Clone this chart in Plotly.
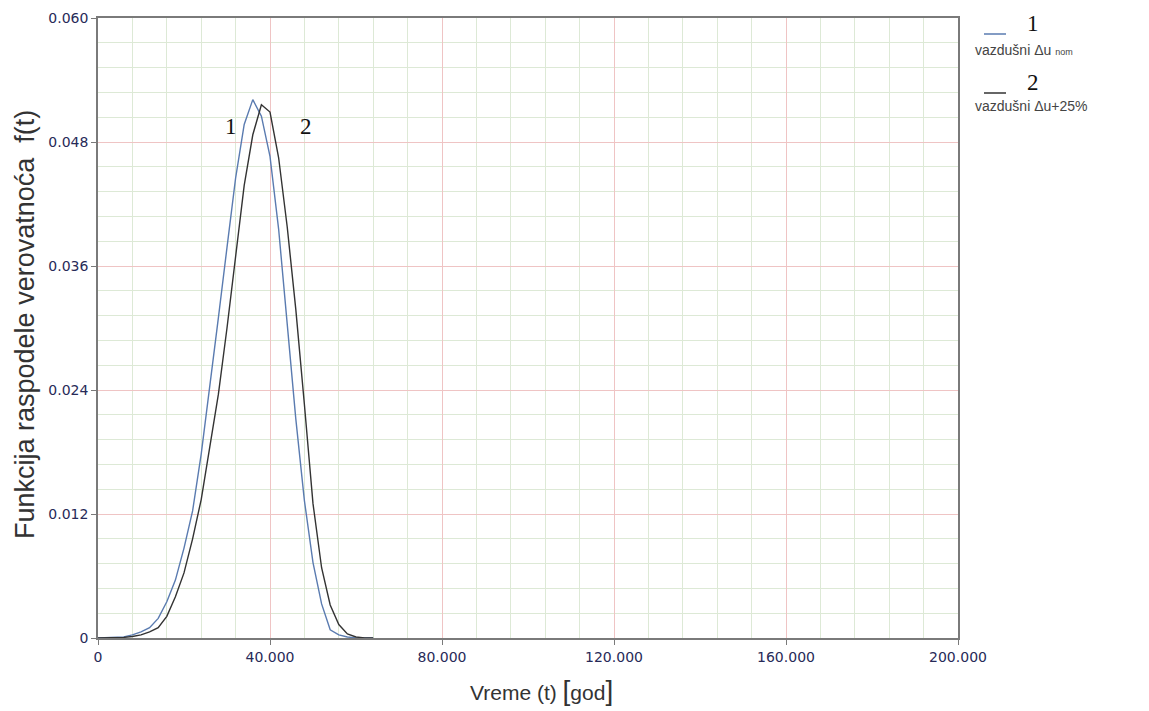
import plotly.graph_objects as go

# time (years)
t = [0, 2, 4, 6, 8, 10, 12, 14, 16, 18, 20, 22, 24, 26, 28, 30, 32, 34, 36, 38,
     40, 42, 44, 46, 48, 50, 52, 54, 56, 58, 60, 62, 64]

# series 1: vazdušni Δu nom
f1 = [0, 0.00001, 0.00005, 0.0001, 0.0003, 0.0006, 0.0010, 0.0019, 0.0035, 0.0056,
      0.0087, 0.0123, 0.0178, 0.0242, 0.0310, 0.0378, 0.0445, 0.0497, 0.0521, 0.0505,
      0.0466, 0.0396, 0.0300, 0.0212, 0.0133, 0.0073, 0.0033, 0.0008, 0.0003, 0.0001,
      0, 0, 0]

# series 2: vazdušni Δu+25%
f2 = [0, 0, 0.00002, 0.00006, 0.00015, 0.0003, 0.0006, 0.0010, 0.0021, 0.0040,
      0.0063, 0.0096, 0.0134, 0.0183, 0.0236, 0.0300, 0.0370, 0.0438, 0.0487, 0.0516,
      0.0509, 0.0465, 0.0398, 0.0318, 0.0226, 0.0130, 0.0068, 0.0032, 0.0013, 0.0004,
      0.0001, 0, 0]

x_ticks = [0, 40, 80, 120, 160, 200]
x_labels = ["0", "40.000", "80.000", "120.000", "160.000", "200.000"]
y_ticks = [0, 0.012, 0.024, 0.036, 0.048, 0.060]
y_labels = ["0", "0.012", "0.024", "0.036", "0.048", "0.060"]

BLUE = "#5a7bb0"
BLACK = "#333333"
TICKCOL = "#272a58"

OFF = 8  # page body margin
W, H = 1141, 703
L, R, T, B = 90, 191, 10, 73
PW, PH = W - L - R, H - T - B


def px(xpix):
    return (xpix - OFF - L) / PW


def py(ypix):
    return (OFF + T + PH - ypix) / PH


fig = go.Figure()
fig.add_trace(go.Scatter(x=t, y=f1, mode="lines", line=dict(color=BLUE, width=1.4),
                         showlegend=False))
fig.add_trace(go.Scatter(x=t, y=f2, mode="lines", line=dict(color=BLACK, width=1.4),
                         showlegend=False))

axis_common = dict(showline=True, linecolor="#7a7a7a", linewidth=1.5, mirror=True,
                   ticks="outside", ticklen=5, tickcolor="#7a7a7a",
                   zeroline=False, automargin=False,
                   tickfont=dict(family="DejaVu Sans", size=14, color=TICKCOL))

fig.update_xaxes(range=[0, 200], tickvals=x_ticks, ticktext=x_labels,
                 showgrid=True, gridcolor="#efc4c4", gridwidth=1,
                 minor=dict(dtick=8, tick0=0, showgrid=True, gridcolor="#dde9d6", gridwidth=1),
                 **axis_common)
fig.update_yaxes(range=[0, 0.06], tickvals=y_ticks, ticktext=y_labels,
                 showgrid=True, gridcolor="#efc4c4", gridwidth=1,
                 minor=dict(dtick=0.0024, tick0=0, showgrid=True, gridcolor="#dde9d6", gridwidth=1),
                 **axis_common)

# axis titles
fig.add_annotation(xref="paper", yref="paper", x=px(541), y=py(690),
                   xanchor="center", yanchor="middle",
                   text="Vreme (t) <span style='font-size:28px'>[</span>god<span style='font-size:28px'>]</span>",
                   showarrow=False,
                   font=dict(family="Liberation Sans", size=21, color="#333333"))
fig.add_annotation(xref="paper", yref="paper", x=px(25), y=py(325),
                   xanchor="center", yanchor="middle",
                   text="Funkcija raspodele verovatnoća  f(t)", textangle=-90,
                   showarrow=False,
                   font=dict(family="Liberation Sans", size=27, color="#333333"))

# curve labels
for txt, xv in [("1", 30.9), ("2", 48.4)]:
    fig.add_annotation(x=xv, y=0.0495, xref="x", yref="y", text=txt, showarrow=False,
                       xanchor="center", yanchor="middle",
                       font=dict(family="Liberation Serif", size=23, color="#111111"))

# legend (drawn as shapes + annotations in paper space)
legend_items = [
    ("1", "vazdušni Δu <span style='font-size:9px'>nom</span>", BLUE, 34, 24, 50),
    ("2", "vazdušni Δu+25%", BLACK, 93, 82, 106),
]
for num, label, col, yline, ynum, ytxt in legend_items:
    fig.add_shape(type="line", xref="paper", yref="paper",
                  x0=px(984), x1=px(1006), y0=py(yline), y1=py(yline),
                  line=dict(color=col, width=1.5))
    fig.add_annotation(xref="paper", yref="paper", x=px(1033), y=py(ynum),
                       xanchor="center", yanchor="middle",
                       text=num, showarrow=False,
                       font=dict(family="Liberation Serif", size=23, color="#111111"))
    fig.add_annotation(xref="paper", yref="paper", x=px(973), y=py(ytxt),
                       text=label, showarrow=False, xanchor="left", yanchor="middle",
                       font=dict(family="Liberation Sans", size=14, color="#444444"))

fig.update_layout(width=W, height=H,
                  margin=dict(l=L, r=R, t=T, b=B),
                  paper_bgcolor="white", plot_bgcolor="white")

fig.write_html("out.html")
